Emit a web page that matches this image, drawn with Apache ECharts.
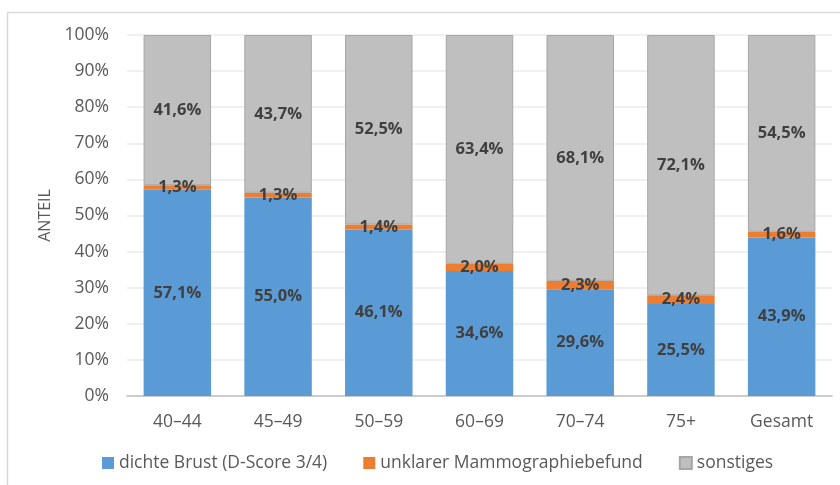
<!DOCTYPE html>
<html>
<head>
<meta charset="utf-8">
<script src="https://cdn.jsdelivr.net/npm/echarts@6/dist/echarts.min.js"></script>
<style>
  html, body { margin: 0; padding: 0; background: #fff; }
  #main { width: 840px; height: 485px; }
</style>
</head>
<body>
<div id="main"></div>
<script>
var categories = ['40–44', '45–49', '50–59', '60–69', '70–74', '75+', 'Gesamt'];
var dichte = [57.1, 55.0, 46.1, 34.6, 29.6, 25.5, 43.9];
var unklar = [1.3, 1.3, 1.4, 2.0, 2.3, 2.4, 1.6];
var sonstiges = [41.6, 43.7, 52.5, 63.4, 68.1, 72.1, 54.5];
var yTicks = [0, 10, 20, 30, 40, 50, 60, 70, 80, 90, 100];

var myChart = echarts.init(document.getElementById('main'));

var fmt = function (p) { return p.value.toFixed(1).replace('.', ',') + '%'; };
var lbl = {
    show: true,
    position: 'inside',
    formatter: fmt,
    color: '#404040',
    fontFamily: 'Open Sans',
    fontWeight: 'bold',
    fontSize: 16.5
};

var option = {
    backgroundColor: '#fff',
    textStyle: { fontFamily: 'Open Sans' },
    graphic: [{
        type: 'rect',
        shape: { x: 7.5, y: 12.5, width: 900, height: 600 },
        style: { fill: 'none', stroke: '#d9d9d9', lineWidth: 1.5 },
        silent: true
    }],
    grid: { left: 127, right: 8, top: 35, bottom: 89 },
    legend: {
        bottom: 8,
        left: 97,
        itemWidth: 12,
        itemHeight: 12,
        itemGap: 36,
        icon: 'rect',
        textStyle: { color: '#595959', fontSize: 17.5, fontFamily: 'Open Sans' },
        data: ['dichte Brust (D-Score 3/4)', 'unklarer Mammographiebefund', 'sonstiges']
    },
    xAxis: {
        type: 'category',
        data: categories,
        axisLine: { lineStyle: { color: '#bfbfbf', width: 1.5 } },
        axisTick: { show: false },
        axisLabel: { color: '#595959', fontSize: 17.5, margin: 17 }
    },
    yAxis: {
        type: 'value',
        min: yTicks[0],
        max: yTicks[yTicks.length - 1],
        interval: 10,
        name: 'ANTEIL',
        nameLocation: 'middle',
        nameGap: 72,
        nameTextStyle: { color: '#595959', fontSize: 16 },
        axisLine: { show: false },
        axisTick: { show: false },
        axisLabel: { color: '#595959', fontSize: 17.5, margin: 18, formatter: '{value}%' },
        splitLine: { lineStyle: { color: '#ebebeb', width: 1.5 } }
    },
    series: [
        {
            name: 'dichte Brust (D-Score 3/4)',
            type: 'bar',
            stack: 'a',
            barWidth: '67%',
            data: dichte,
            itemStyle: { color: '#5b9bd5' },
            label: lbl
        },
        {
            name: 'unklarer Mammographiebefund',
            type: 'bar',
            stack: 'a',
            data: unklar,
            itemStyle: { color: '#ed7d31' },
            label: lbl
        },
        {
            name: 'sonstiges',
            type: 'bar',
            stack: 'a',
            data: sonstiges,
            itemStyle: { color: '#bfbfbf', borderColor: '#a6a6a6', borderWidth: 1 },
            label: lbl
        }
    ]
};
myChart.setOption(option);
</script>
</body>
</html>
